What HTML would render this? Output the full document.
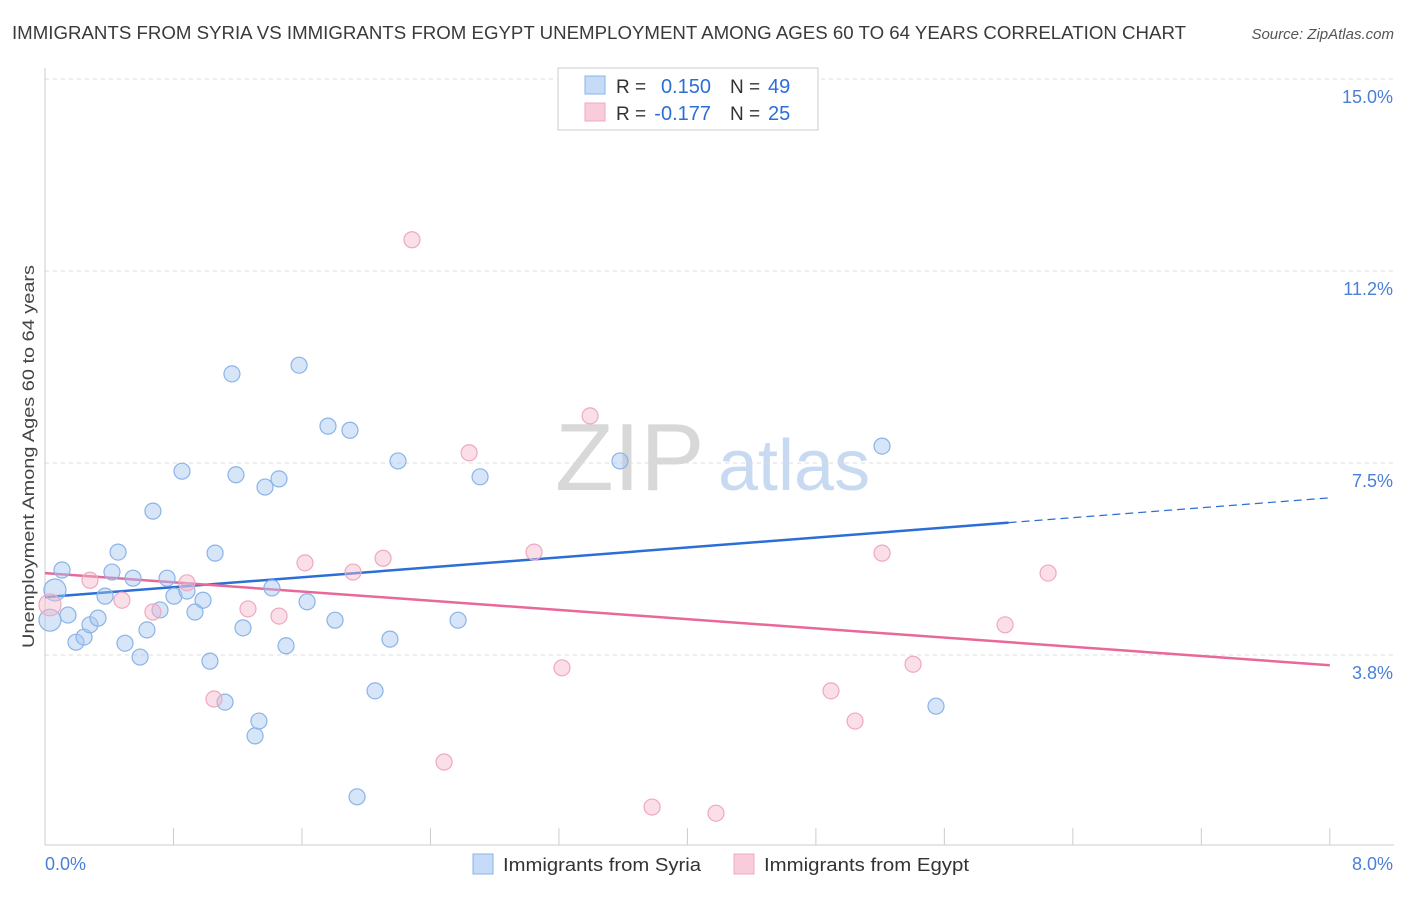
<!DOCTYPE html>
<html><head><meta charset="utf-8"><style>
body{margin:0;background:#fff;font-family:"Liberation Sans",sans-serif;}
svg text{font-family:"Liberation Sans",sans-serif;}
</style></head><body>
<svg id="chart" width="1406" height="892" viewBox="0 0 1406 892" xmlns="http://www.w3.org/2000/svg">
<text x="12" y="39" font-size="18" fill="#3a3a3a" textLength="1174" lengthAdjust="spacingAndGlyphs">IMMIGRANTS FROM SYRIA VS IMMIGRANTS FROM EGYPT UNEMPLOYMENT AMONG AGES 60 TO 64 YEARS CORRELATION CHART</text>
<text x="1394" y="39" font-size="15" fill="#555" text-anchor="end" font-style="italic">Source: ZipAtlas.com</text>
<text transform="translate(34,648) rotate(-90)" font-size="17" fill="#444" textLength="383" lengthAdjust="spacingAndGlyphs">Unemployment Among Ages 60 to 64 years</text>
<text x="555" y="490" font-size="96" fill="#d8d8d8" font-family="Liberation Serif">ZIP</text>
<text x="718" y="490" font-size="72" fill="#c8daf2">atlas</text>
<g id="grid"></g><g id="lines"></g><g id="pts"></g>
<g>
<rect x="558" y="68" width="260" height="62" fill="#fff" stroke="#ccc"/>
<rect x="585" y="76" width="20" height="18" fill="#c5dbf7" stroke="#8ab4e8"/>
<rect x="585" y="103" width="20" height="18" fill="#f9ccdb" stroke="#f0a8c0"/>
<text x="616" y="93" font-size="19" fill="#333">R =</text>
<text x="711" y="93" font-size="20" fill="#2b6fd6" text-anchor="end">0.150</text>
<text x="730" y="93" font-size="19" fill="#333">N =</text>
<text x="768" y="93" font-size="20" fill="#2b6fd6">49</text>
<text x="616" y="120" font-size="19" fill="#333">R =</text>
<text x="711" y="120" font-size="20" fill="#2b6fd6" text-anchor="end">-0.177</text>
<text x="730" y="120" font-size="19" fill="#333">N =</text>
<text x="768" y="120" font-size="20" fill="#2b6fd6">25</text>
</g>
<g>
<rect x="473" y="854" width="20" height="20" fill="#c5dbf7" stroke="#8ab4e8"/>
<text x="503" y="871" font-size="18" fill="#333" textLength="198" lengthAdjust="spacingAndGlyphs">Immigrants from Syria</text>
<rect x="734" y="854" width="20" height="20" fill="#f9ccdb" stroke="#f0a8c0"/>
<text x="764" y="871" font-size="18" fill="#333" textLength="205" lengthAdjust="spacingAndGlyphs">Immigrants from Egypt</text>
</g>
</svg>
<script>
const syriaX=[.062,.106,.143,.193,.243,.280,.330,.374,.417,.455,.498,.548,.592,.635,.672,.716,.760,.803,.853,.884,.934,.984,1.027,1.059,1.121,1.164,1.189,1.233,1.308,1.332,1.370,1.413,1.457,1.501,1.582,1.632,1.762,1.806,1.899,1.943,2.055,2.148,2.198,2.572,2.709,3.580,5.212,5.548,.031];
const syriaY=[5.02,5.41,4.53,4.00,4.10,4.34,4.47,4.90,5.37,5.76,3.98,5.25,3.71,4.24,6.56,4.63,5.25,4.90,7.34,5.00,4.59,4.82,3.63,5.74,2.83,9.24,7.27,4.28,2.17,2.46,7.03,5.06,7.19,3.93,9.41,4.79,8.22,4.43,8.14,0.98,3.05,4.06,7.54,4.43,7.23,7.54,7.83,2.75,4.43];
const egyptX=[.031,.280,.479,.672,.884,1.052,1.264,1.457,1.619,1.918,2.105,2.285,2.485,2.641,3.045,3.219,3.394,3.780,4.178,4.894,5.044,5.212,5.405,5.978,6.246];
const egyptY=[4.73,5.21,4.82,4.59,5.16,2.89,4.65,4.51,5.55,5.37,5.64,11.86,1.66,7.70,5.76,3.50,8.42,0.78,0.66,3.05,2.46,5.74,3.57,4.34,5.35];
const yTicks=[3.75,7.5,11.25,15];
const yTickLabels=["3.8%","7.5%","11.2%","15.0%"];
const xTickVals=[0,0.8,1.6,2.4,3.2,4,4.8,5.6,6.4,7.2,8];
const syriaTrend=[4.88,6.82];
const egyptTrend=[5.35,3.55];
const syriaSolidEnd=6.0;
const X=v=>45+v*160.6, Y=v=>847-v*51.2;
const NS="http://www.w3.org/2000/svg";
function mk(t,a,p){const e=document.createElementNS(NS,t);for(const k in a)e.setAttribute(k,a[k]);p.appendChild(e);return e;}
const grid=document.getElementById('grid');
yTicks.forEach((v,i)=>{
 const l=mk('line',{x1:45,x2:1394,y1:Y(v),y2:Y(v),stroke:'#ddd','stroke-dasharray':'4,4'},grid);
 
 
 const t=mk('text',{x:1393,y:Y(v)+24,'font-size':18,fill:'#4a7fd8','text-anchor':'end'},grid);
 t.textContent=yTickLabels[i];
 
 
});
const ax=mk('line',{x1:45,x2:45,y1:68,y2:845,stroke:'#ccc'},grid);


const bx=mk('line',{x1:45,x2:1394,y1:845,y2:845,stroke:'#ccc'},grid);


xTickVals.forEach(v=>{const t=mk('line',{x1:X(v),x2:X(v),y1:828,y2:845,stroke:'#ccc'},grid);
 
 });
const x0=mk('text',{x:45,y:870,'font-size':18,fill:'#4a7fd8'},grid);x0.textContent='0.0%';


const x8=mk('text',{x:1393,y:870,'font-size':18,fill:'#4a7fd8','text-anchor':'end'},grid);x8.textContent='8.0%';


const pts=document.getElementById('pts');
function dots(xs,ys,fill,stroke,name){xs.forEach((x,i)=>{const big=(x<0.07);
 const c=mk('circle',{cx:X(x),cy:Y(ys[i]),r:big?11:8,fill:fill,stroke:stroke,'stroke-width':1.2},pts);
 
 });}
dots(syriaX,syriaY,'rgba(164,198,240,0.45)','#8ab4e8','syria-point');
dots(egyptX,egyptY,'rgba(244,182,204,0.45)','#f0a8c0','egypt-point');
const lines=document.getElementById('lines');
const sy=v=>syriaTrend[0]+(syriaTrend[1]-syriaTrend[0])*v/8;
const l1=mk('line',{x1:X(0),y1:Y(sy(0)),x2:X(syriaSolidEnd),y2:Y(sy(syriaSolidEnd)),stroke:'#2b6fd6','stroke-width':2.5},lines);


const l2=mk('line',{x1:X(syriaSolidEnd),y1:Y(sy(syriaSolidEnd)),x2:X(8),y2:Y(sy(8)),stroke:'#2b6fd6','stroke-width':1.2,'stroke-dasharray':'8,5'},lines);


const l3=mk('line',{x1:X(0),y1:Y(egyptTrend[0]),x2:X(8),y2:Y(egyptTrend[1]),stroke:'#e8689a','stroke-width':2.5},lines);


</script>
</body></html>
